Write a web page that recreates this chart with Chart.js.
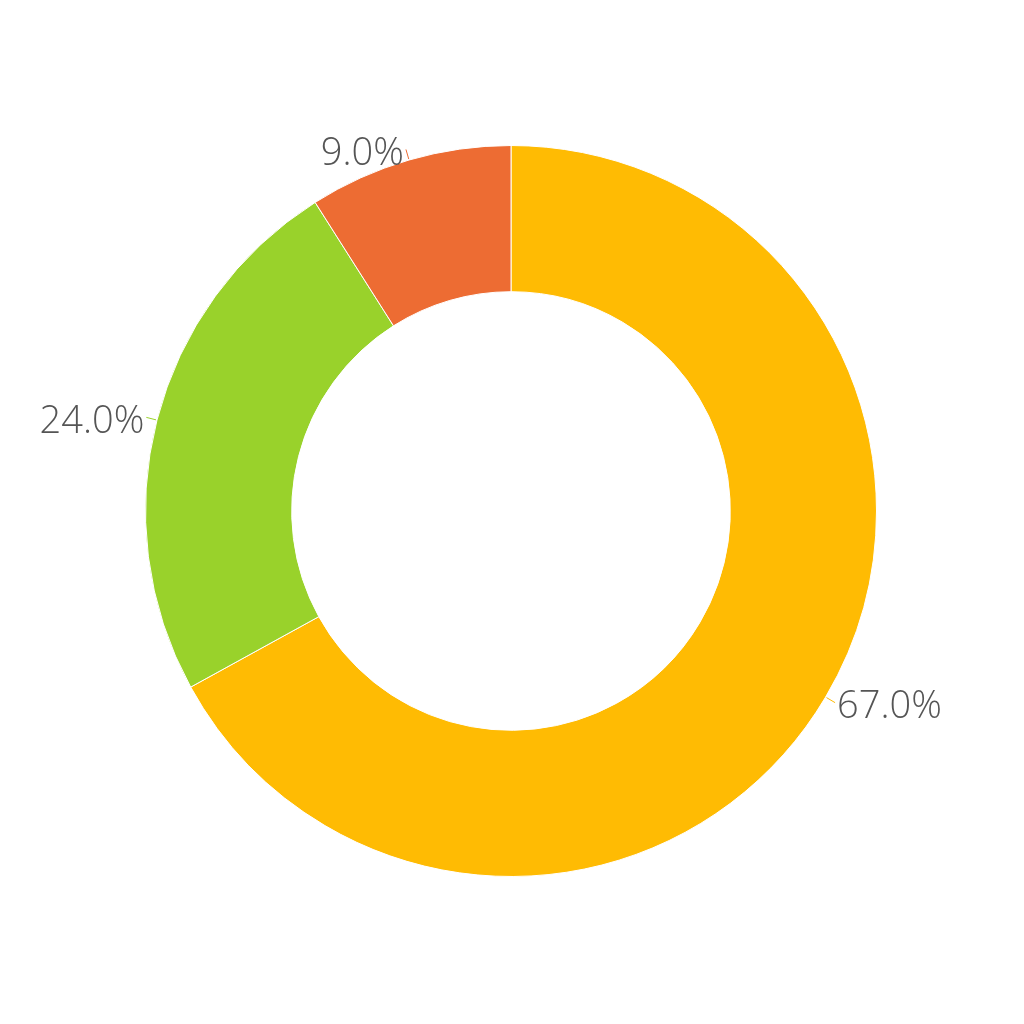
<!DOCTYPE html>
<html>
<head>
<meta charset="utf-8">
<script src="https://cdn.jsdelivr.net/npm/chart.js@4/dist/chart.umd.min.js"></script>
<style>
  html, body { margin: 0; padding: 0; background: #fff; }
  #wrap { width: 1024px; height: 1024px; }
</style>
</head>
<body>
<div id="wrap"><canvas id="grafico" width="1024" height="1024"></canvas></div>
<script>
const categorias = ['A', 'B', 'C'];
const valores = [67.0, 24.0, 9.0];
const colores = ['#FFBB03', '#99D22B', '#ED6C33'];

// etiquetas fuera del anillo con una linea corta
const etiquetasExternas = {
  id: 'etiquetasExternas',
  afterDatasetsDraw(chart) {
    const ctx = chart.ctx;
    const meta = chart.getDatasetMeta(0);
    const total = valores.reduce((a, b) => a + b, 0);
    ctx.save();
    ctx.font = '300 38px "Open Sans", sans-serif';
    ctx.fillStyle = '#555555';
    ctx.textBaseline = 'middle';
    meta.data.forEach((arc, i) => {
      const ang = (arc.startAngle + arc.endAngle) / 2;
      const r = arc.outerRadius;
      const x0 = arc.x + Math.cos(ang) * (r + 1);
      const y0 = arc.y + Math.sin(ang) * (r + 1);
      const x1 = arc.x + Math.cos(ang) * (r + 11);
      const y1 = arc.y + Math.sin(ang) * (r + 11);
      ctx.strokeStyle = colores[i];
      ctx.lineWidth = 1;
      ctx.beginPath();
      ctx.moveTo(x0, y0);
      ctx.lineTo(x1, y1);
      ctx.stroke();
      const derecha = Math.cos(ang) >= 0;
      ctx.textAlign = derecha ? 'left' : 'right';
      const txt = (valores[i] / total * 100).toFixed(1) + '%';
      ctx.fillText(txt, x1 + (derecha ? 2 : -2), y1 + 5);
    });
    ctx.restore();
  }
};

new Chart(document.getElementById('grafico'), {
  type: 'doughnut',
  data: {
    labels: categorias,
    datasets: [{
      data: valores,
      backgroundColor: colores,
      borderColor: '#ffffff',
      borderWidth: 1
    }]
  },
  options: {
    responsive: false,
    animation: false,
    cutout: '60%',
    layout: { padding: { left: 145, right: 147, top: 145, bottom: 147 } },
    plugins: { legend: { display: false }, tooltip: { enabled: false } }
  },
  plugins: [etiquetasExternas]
});
</script>
</body>
</html>
